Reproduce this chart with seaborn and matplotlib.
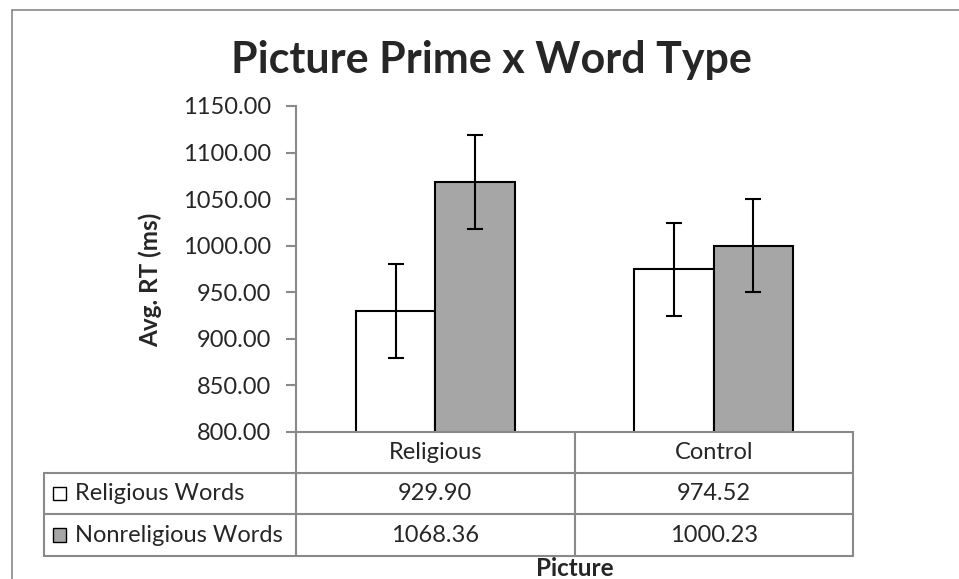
import pandas as pd
import matplotlib
matplotlib.use("Agg")
import matplotlib.pyplot as plt
import seaborn as sns
from matplotlib.patches import Rectangle
from matplotlib.lines import Line2D
from matplotlib.ticker import FormatStrFormatter

# data
pictures = ["Religious", "Control"]
word_types = ["Religious Words", "Nonreligious Words"]
religious_words = [929.90, 974.52]
nonreligious_words = [1068.36, 1000.23]
religious_err = [50, 50]
nonreligious_err = [50, 50]
y_ticks = [800, 850, 900, 950, 1000, 1050, 1100, 1150]

df = pd.DataFrame({
    "Picture": pictures * 2,
    "Word Type": [word_types[0]] * 2 + [word_types[1]] * 2,
    "RT": religious_words + nonreligious_words,
})

sns.set_style("white")
plt.rcParams["font.family"] = ["Lato", "DejaVu Sans"]

W, H = 959, 579
fig = plt.figure(figsize=(W / 100, H / 100), dpi=100)
ax = fig.add_axes([296 / W, 147 / H, 557 / W, 326 / H])

colors = ["white", "#a6a6a6"]
grey = "#898989"
fs = 17

sns.barplot(data=df, x="Picture", y="RT", hue="Word Type",
            order=pictures, hue_order=word_types, palette=colors,
            saturation=1, width=0.57, gap=0, edgecolor="black",
            linewidth=1.5, errorbar=None, legend=False, ax=ax)

# error bars on top of each bar
for cont, err in zip(ax.containers, [religious_err, nonreligious_err]):
    xs = [p.get_x() + p.get_width() / 2 for p in cont]
    ys = [p.get_height() for p in cont]
    ax.errorbar(xs, ys, yerr=err, fmt="none", ecolor="black",
                elinewidth=1.5, capsize=6, capthick=1.5)

ax.set_xlim(-0.5, 1.5)
ax.set_ylim(800, 1150)
ax.set_yticks(y_ticks)
ax.yaxis.set_major_formatter(FormatStrFormatter("%.2f"))
ax.set_xticks([])
ax.tick_params(axis="y", left=True, length=7, width=1.5, color=grey,
               labelsize=fs, pad=11)
for s in ["top", "right"]:
    ax.spines[s].set_visible(False)
for s in ["left", "bottom"]:
    ax.spines[s].set_color(grey)
    ax.spines[s].set_linewidth(1.5)

ax.set_ylabel("Avg. RT (ms)", fontsize=17.5, fontweight="bold")
ax.yaxis.set_label_coords(-0.24, 0.466)
ax.set_xlabel("Picture", fontsize=17.5, fontweight="bold")
ax.xaxis.set_label_coords(0.5, -0.382)

# data table under the axis (x in data units, y in axes units)
tr = ax.get_xaxis_transform()
left = -1.405
r1, r2, r3 = -41 / 326, -82 / 326, -124 / 326
kw = dict(transform=tr, color=grey, lw=1.5, clip_on=False)
for yy in [r1, r2, r3]:
    ax.plot([left, 1.5], [yy, yy], **kw)
for xx in [-0.5, 0.5, 1.5]:
    ax.plot([xx, xx], [0, r3], **kw)
ax.plot([left, left], [r1, r3], **kw)

for i, pic in enumerate(pictures):
    ax.text(i, r1 / 2, pic, transform=tr, ha="center", va="center", fontsize=fs)

rows = [religious_words, nonreligious_words]
for j, (name, vals) in enumerate(zip(word_types, rows)):
    yc = (r1 + r2) / 2 if j == 0 else (r2 + r3) / 2
    ax.add_patch(Rectangle((-1.372, yc - 0.02), 0.047, 0.04, transform=tr,
                           facecolor=colors[j], edgecolor="black", lw=1,
                           clip_on=False))
    ax.text(-1.294, yc, name, transform=tr, ha="left", va="center", fontsize=fs)
    for i, v in enumerate(vals):
        ax.text(i, yc, f"{v:.2f}", transform=tr, ha="center", va="center",
                fontsize=fs)

fig.text(491 / W, 1 - 73 / H, "Picture Prime x Word Type", ha="center",
         va="baseline", fontsize=31, fontweight="bold")

# chart frame
fig.add_artist(Line2D([12 / W, 12 / W], [0, 1 - 9.5 / H], color=grey, lw=1.2))
fig.add_artist(Line2D([12 / W, 1], [1 - 9.5 / H, 1 - 9.5 / H], color=grey, lw=1.2))

fig.savefig("out.png", dpi=100, facecolor="white")
